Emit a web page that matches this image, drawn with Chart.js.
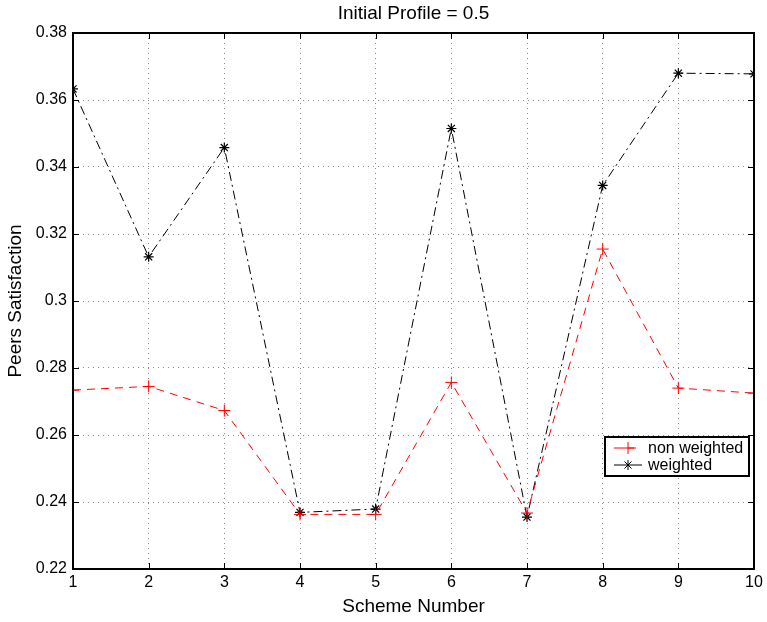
<!DOCTYPE html>
<html>
<head>
<meta charset="utf-8">
<script src="https://cdn.jsdelivr.net/npm/chart.js@4.4.1/dist/chart.umd.min.js"></script>
<style>
  html, body { margin: 0; padding: 0; background: #fff; }
  #wrap { width: 767px; height: 622px; }
</style>
</head>
<body>
<div id="wrap"><canvas id="chart" width="767" height="622"></canvas></div>
<script>
// data
const schemes = [1, 2, 3, 4, 5, 6, 7, 8, 9, 10];
const nonWeighted = [0.2734, 0.2745, 0.2673, 0.2363, 0.2363, 0.2757, 0.2367, 0.3155, 0.2740, 0.2725];
const weighted = [0.3633, 0.3132, 0.3458, 0.2369, 0.2379, 0.3515, 0.2355, 0.3345, 0.3680, 0.3678];
const xTicks = [1, 2, 3, 4, 5, 6, 7, 8, 9, 10];
const yTicks = [0.22, 0.24, 0.26, 0.28, 0.30, 0.32, 0.34, 0.36, 0.38];
const chartTitle = 'Initial Profile = 0.5';

const FONT = 'Liberation Sans, Arial, Helvetica, sans-serif';

// matlab style box with inward ticks, title centred over the axes
const boxPlugin = {
    id: 'boxTicks',
    afterDatasetsDraw(chart) {
        const { ctx, chartArea: a, scales } = chart;
        ctx.save();
        ctx.strokeStyle = '#000';
        ctx.lineWidth = 1;
        const t = 6;
        xTicks.forEach(v => {
            const px = Math.round(scales.x.getPixelForValue(v)) + 0.5;
            ctx.beginPath();
            ctx.moveTo(px, a.bottom); ctx.lineTo(px, a.bottom - t);
            ctx.moveTo(px, a.top); ctx.lineTo(px, a.top + t);
            ctx.stroke();
        });
        yTicks.forEach(v => {
            const py = Math.round(scales.y.getPixelForValue(v)) + 0.5;
            ctx.beginPath();
            ctx.moveTo(a.left, py); ctx.lineTo(a.left + t, py);
            ctx.moveTo(a.right, py); ctx.lineTo(a.right - t, py);
            ctx.stroke();
        });
        ctx.lineWidth = 2;
        ctx.strokeRect(a.left, a.top, a.right - a.left, a.bottom - a.top);

        ctx.fillStyle = '#000';
        ctx.font = '19px ' + FONT;
        ctx.textAlign = 'center';
        ctx.textBaseline = 'middle';
        ctx.fillText(chartTitle, (a.left + a.right) / 2, a.top - 19);
        ctx.restore();
    }
};

// legend box drawn in the lower right of the plot
const legendPlugin = {
    id: 'boxLegend',
    afterDraw(chart) {
        const { ctx, chartArea: a } = chart;
        const w = 144, h = 39;
        const x0 = a.right - 149, y0 = a.bottom - 132;
        ctx.save();
        ctx.fillStyle = '#fff';
        ctx.fillRect(x0, y0, w, h);
        ctx.lineWidth = 2;
        ctx.strokeStyle = '#000';
        ctx.strokeRect(x0, y0, w, h);
        ctx.font = '16px ' + FONT;
        ctx.textBaseline = 'middle';
        ctx.fillStyle = '#000';
        chart.data.datasets.forEach((ds, i) => {
            const cy = y0 + 11 + i * 17;
            ctx.strokeStyle = ds.borderColor;
            ctx.lineWidth = 1;
            ctx.setLineDash(ds.borderDash);
            ctx.beginPath();
            ctx.moveTo(x0 + 9, cy); ctx.lineTo(x0 + 37, cy);
            ctx.stroke();
            ctx.setLineDash([]);
            Chart.helpers.drawPoint(ctx, {
                pointStyle: ds.pointStyle, radius: ds.pointRadius, borderWidth: 1
            }, x0 + 23, cy);
            ctx.fillText(ds.label, x0 + 43, cy + 1);
        });
        ctx.restore();
    }
};

new Chart(document.getElementById('chart'), {
    type: 'line',
    data: {
        labels: schemes,
        datasets: [
            {
                label: 'non weighted',
                data: schemes.map((s, i) => ({ x: s, y: nonWeighted[i] })),
                borderColor: '#ff0000',
                backgroundColor: '#ff0000',
                borderWidth: 1,
                borderDash: [8, 6],
                pointStyle: 'cross',
                pointRadius: 6,
                pointBorderWidth: 1,
                fill: false,
                tension: 0
            },
            {
                label: 'weighted',
                data: schemes.map((s, i) => ({ x: s, y: weighted[i] })),
                borderColor: '#000000',
                backgroundColor: '#000000',
                borderWidth: 1,
                borderDash: [9, 4, 2, 4],
                pointStyle: 'star',
                pointRadius: 5,
                pointBorderWidth: 1.2,
                fill: false,
                tension: 0
            }
        ]
    },
    options: {
        responsive: false,
        animation: false,
        events: [],
        layout: { padding: { left: 0, right: 13, top: 33, bottom: 0 } },
        plugins: {
            legend: { display: false },
            tooltip: { enabled: false },
            title: { display: false }
        },
        scales: {
            x: {
                type: 'linear',
                min: 1,
                max: 10,
                afterBuildTicks: s => { s.ticks = xTicks.map(v => ({ value: v })); },
                afterFit: s => { s.height = 53; },
                grid: { color: '#888', lineWidth: 1, drawTicks: false },
                border: { display: false, dash: [1, 4] },
                ticks: {
                    color: '#000', padding: 4,
                    font: { family: FONT, size: 16 },
                    callback: v => String(v)
                },
                title: {
                    display: true, text: 'Scheme Number', color: '#000',
                    font: { family: FONT, size: 19 }, padding: { top: 0 }
                }
            },
            y: {
                min: 0.22,
                max: 0.38,
                afterBuildTicks: s => { s.ticks = yTicks.map(v => ({ value: v })); },
                afterFit: s => { s.width = 73; },
                grid: { color: '#888', lineWidth: 1, drawTicks: false },
                border: { display: false, dash: [1, 4] },
                ticks: {
                    color: '#000', padding: 6,
                    font: { family: FONT, size: 16 },
                    callback: v => {
                        const s = v.toFixed(2);
                        return s === '0.30' ? '0.3' : s;
                    }
                },
                title: {
                    display: true, text: 'Peers Satisfaction', color: '#000',
                    font: { family: FONT, size: 19 }, padding: { bottom: 0, top: 4 }
                }
            }
        }
    },
    plugins: [boxPlugin, legendPlugin]
});
</script>
</body>
</html>
